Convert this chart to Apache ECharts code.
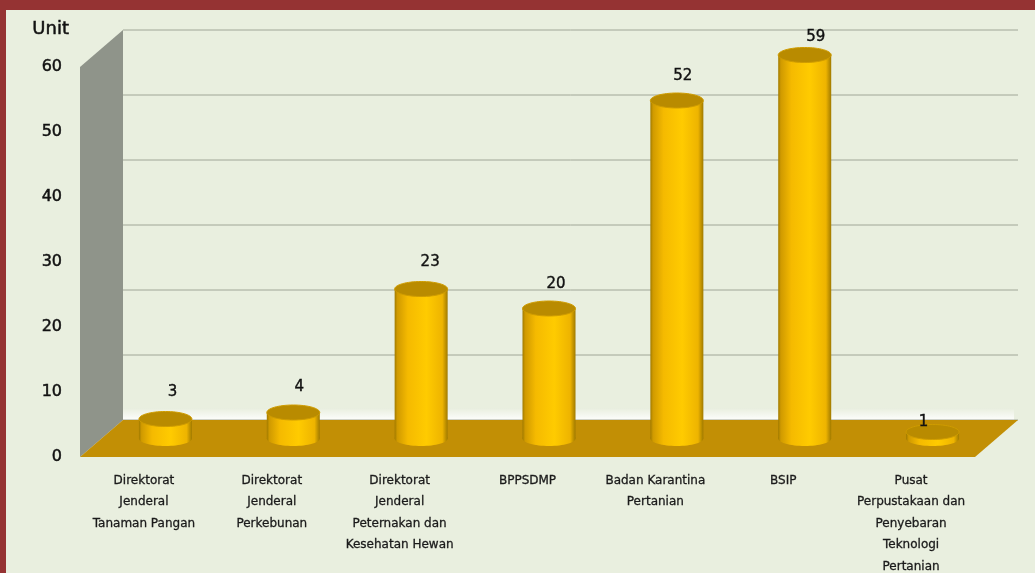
<!DOCTYPE html>
<html>
<head>
<meta charset="utf-8">
<title>Unit</title>
<style>
  html, body { margin: 0; height: 100%; background: #e9efdf; overflow: hidden; }
  #chart { position: absolute; left: 0; top: 0; width: 1035px; height: 573px; }
  .strip { position: absolute; left: 0; top: 0; background: #953333; }
</style>
<script src="https://cdn.jsdelivr.net/npm/echarts@6/dist/echarts.min.js"></script>
</head>
<body>
<div class="strip" style="width:1035px;height:10px"></div>
<div class="strip" style="width:6px;height:573px"></div>
<div id="chart"></div>
<script>
const categories = [
  'Direktorat\nJenderal\nTanaman Pangan',
  'Direktorat\nJenderal\nPerkebunan',
  'Direktorat\nJenderal\nPeternakan dan\nKesehatan Hewan',
  'BPPSDMP',
  'Badan Karantina\nPertanian',
  'BSIP',
  'Pusat\nPerpustakaan dan\nPenyebaran\nTeknologi\nPertanian'
]
const values = [3, 4, 23, 20, 52, 59, 1]
const yTicks = [0, 10, 20, 30, 40, 50, 60]

// hand placed in the original, so each label has its own nudge
const labelNudge = [[7, -27], [6, -25], [9, -27], [7, -24], [6, -24], [11, -18], [-9, -10]]

// fake 3D: how far the back wall sits from the axis plane
const depthX = 43
const depthY = 37
const barW = 53
const barRy = 7.5

const fontName = '"DejaVu Sans", sans-serif'

function renderBackdrop(params, api) {
  const grid = params.coordSys
  const left = grid.x
  const right = grid.x + grid.width
  const floorY = api.coord([0, 0])[1]
  const topY = api.coord([0, 60])[1]
  const children = []

  children.push({
    type: 'rect',
    shape: { x: left + depthX, y: floorY - depthY - 12, width: right - left - 4, height: 12 },
    style: {
      fill: new echarts.graphic.LinearGradient(0, 0, 0, 1, [
        { offset: 0, color: 'rgba(255,255,255,0)' },
        { offset: 1, color: 'rgba(255,255,255,0.9)' }
      ])
    }
  })
  yTicks.forEach((tick) => {
    const y = api.coord([0, tick])[1] - depthY
    children.push({
      type: 'line',
      shape: { x1: left + depthX, y1: y, x2: right + depthX, y2: y },
      style: { stroke: '#a0a697', lineWidth: 1 }
    })
  })
  // side wall
  children.push({
    type: 'polygon',
    shape: { points: [[left, topY], [left + depthX, topY - depthY], [left + depthX, floorY - depthY], [left, floorY]] },
    style: { fill: '#8f948a' }
  })
  // floor
  children.push({
    type: 'polygon',
    shape: { points: [[left, floorY], [left + depthX, floorY - depthY], [right + depthX, floorY - depthY], [right, floorY]] },
    style: { fill: '#c28f05' }
  })
  return { type: 'group', children }
}

function renderBar(params, api) {
  const idx = api.value(0)
  const val = api.value(1)
  const base = api.coord([idx, 0])
  const top = api.coord([idx, val])
  const cx = base[0] + depthX / 2
  const baseY = base[1] - depthY / 2
  const topY = top[1] - depthY / 2
  const side = new echarts.graphic.LinearGradient(0, 0, 1, 0, [
    { offset: 0, color: '#a07a00' },
    { offset: 0.05, color: '#d09a00' },
    { offset: 0.25, color: '#f5ba00' },
    { offset: 0.6, color: '#ffcb00' },
    { offset: 0.9, color: '#eeb400' },
    { offset: 1, color: '#a07a00' }
  ])
  const nudge = labelNudge[params.dataIndex]
  return {
    type: 'group',
    children: [
      {
        type: 'ellipse',
        shape: { cx, cy: baseY, rx: barW / 2, ry: barRy },
        style: { fill: side }
      },
      {
        type: 'rect',
        shape: { x: cx - barW / 2, y: topY, width: barW, height: baseY - topY },
        style: { fill: side }
      },
      {
        type: 'ellipse',
        shape: { cx, cy: topY, rx: barW / 2, ry: barRy },
        style: { fill: '#b98b00', stroke: '#cf9c00', lineWidth: 1 }
      },
      {
        type: 'text',
        x: cx + nudge[0],
        y: topY + nudge[1],
        style: {
          text: String(val),
          fill: '#111',
          font: '15px ' + fontName,
          align: 'center',
          verticalAlign: 'middle',
          stroke: '#111',
          lineWidth: 0.4
        }
      }
    ]
  }
}

const chart = echarts.init(document.getElementById('chart'))
chart.setOption({
  animation: false,
  grid: { left: 80, right: 60, top: 67, bottom: 116, outerBoundsMode: 'none' },
  xAxis: {
    type: 'category',
    data: categories,
    axisLine: { show: false },
    axisTick: { show: false },
    axisLabel: {
      interval: 0,
      margin: 13,
      color: '#1a1a1a',
      fontFamily: fontName,
      fontSize: 12,
      lineHeight: 21.5,
      verticalAlign: 'top',
      textBorderColor: '#1a1a1a',
      textBorderWidth: 0.3
    }
  },
  yAxis: {
    type: 'value',
    min: 0,
    max: 60,
    interval: 10,
    name: 'Unit',
    nameGap: 29,
    nameTextStyle: {
      color: '#111',
      fontFamily: fontName,
      fontSize: 18,
      align: 'right',
      padding: [0, 11, 0, 0],
      textBorderColor: '#111',
      textBorderWidth: 0.5
    },
    axisLine: { show: false },
    axisTick: { show: false },
    splitLine: { show: false },
    axisLabel: {
      margin: 18,
      padding: [4, 0, 0, 0],
      color: '#111',
      fontFamily: fontName,
      fontSize: 16,
      textBorderColor: '#111',
      textBorderWidth: 0.5
    }
  },
  series: [
    { type: 'custom', silent: true, clip: false, z: 1, data: [[0, 0]], renderItem: renderBackdrop },
    {
      type: 'custom',
      silent: true,
      clip: false,
      z: 2,
      data: categories.map((c, i) => [i, values[i]]),
      renderItem: renderBar
    }
  ]
})
</script>
</body>
</html>
